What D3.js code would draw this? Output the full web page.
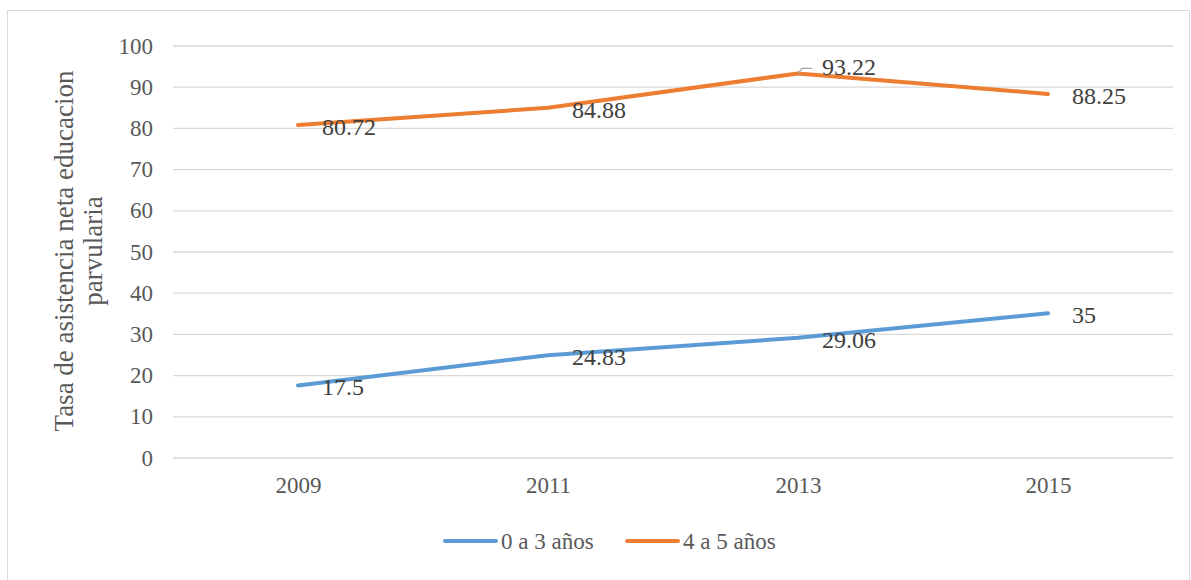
<!DOCTYPE html>
<html><head><meta charset="utf-8">
<script src="https://cdn.jsdelivr.net/npm/d3@7"></script>
<style>body{margin:0;background:#fff}svg{display:block}svg text{font-family:"Liberation Serif","Times New Roman",serif}</style>
</head><body>
<svg id="c" width="1191" height="580"></svg>
<script>
const categories = ["2009","2011","2013","2015"];
const seriesNames = ["0 a 3 años","4 a 5 años"];
const series0 = [17.5, 24.83, 29.06, 35];
const series1 = [80.72, 84.88, 93.22, 88.25];
const yTicks = [0,10,20,30,40,50,60,70,80,90,100];
const colors = ["#5b9bd5","#ed7d31"];
const SERIF = '"Liberation Serif","Times New Roman",serif';

const svg = d3.select("#c");
svg.append("rect").attr("x",7.5).attr("y",10.5).attr("width",1182).attr("height",580).attr("fill","#fff").attr("stroke","#d9d9d9");

const x = d3.scalePoint().domain(categories).range([173,1173]).padding(0.5);
const y = d3.scaleLinear().domain([0,100]).range([457.5,45.5]);

const yAxis = d3.axisLeft(y).tickValues(yTicks).tickSize(-1000).tickPadding(20);
const ga = svg.append("g").attr("transform","translate(173,0)").call(yAxis);
ga.attr("font-family",null);
ga.select(".domain").remove();
ga.selectAll(".tick line").attr("stroke","#d9d9d9").attr("stroke-width",1.3);
ga.selectAll(".tick text").attr("fill","#595959").attr("font-size",23).style("font-family",SERIF).attr("dy","0.33em");

const xAxis = d3.axisBottom(x).tickSize(0).tickPadding(19);
const gx = svg.append("g").attr("transform","translate(0,457.5)").call(xAxis);
gx.attr("font-family",null);
gx.select(".domain").remove();
gx.selectAll(".tick text").attr("fill","#595959").attr("font-size",23).style("font-family",SERIF);

const line = d3.line().x((d,i)=>x(categories[i])).y(d=>y(d));
[series0,series1].forEach((s,k)=>{
  svg.append("path").datum(s).attr("d",line).attr("fill","none").attr("stroke",colors[k])
    .attr("stroke-width",4).attr("stroke-linecap","round").attr("stroke-linejoin","round");
});

// data labels
const lab = svg.append("g").attr("font-size",24).attr("fill","#404040");
[series0,series1].forEach((s,k)=>{
  s.forEach((v,i)=>{
    const px = x(categories[i]), py = y(v);
    const lift = (k===1 && i===2) ? -6 : 2;
    lab.append("text").attr("x",px+24).attr("y",py+lift).attr("dy","0.33em").style("font-family",SERIF).text(String(v));
  });
});
// leader line for 93.22
{
  const px = x(categories[2]), py = y(series1[2]);
  svg.append("path").attr("d",`M${px},${py} L${px+4},${py-5} L${px+14},${py-5}`)
    .attr("fill","none").attr("stroke","#a6a6a6").attr("stroke-width",1.2);
}

// y axis title
svg.append("text").attr("transform","translate(73,251) rotate(-90)").attr("text-anchor","middle")
  .attr("font-size",27).attr("fill","#595959").style("font-family",SERIF)
  .selectAll("tspan").data(["Tasa de asistencia neta educacion","parvularia"]).join("tspan")
  .attr("x",0).attr("dy",(d,i)=>i===0?"0":"1.08em").text(d=>d);

// legend
const lg = svg.append("g");
const legX = [443,625];
seriesNames.forEach((n,k)=>{
  lg.append("line").attr("x1",legX[k]+2).attr("x2",legX[k]+53).attr("y1",541).attr("y2",541)
    .attr("stroke",colors[k]).attr("stroke-width",4).attr("stroke-linecap","round");
  lg.append("text").attr("x",legX[k]+58).attr("y",541).attr("dy","0.33em").attr("font-size",23)
    .attr("fill","#595959").style("font-family",SERIF).text(n);
});
</script>
</body></html>
